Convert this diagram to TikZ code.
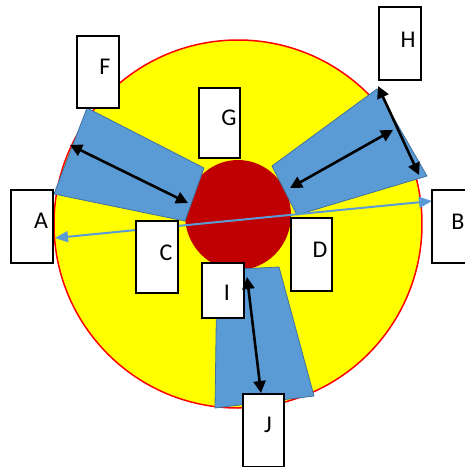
\documentclass[tikz,border=0pt]{standalone}
\usepackage{fontspec}
\setmainfont{Carlito}
\usetikzlibrary{arrows.meta}
\definecolor{ybg}{HTML}{FFFF00}
\definecolor{rline}{HTML}{FF0000}
\definecolor{dred}{HTML}{C00000}
\definecolor{bfill}{HTML}{5B9BD5}
\definecolor{bline}{HTML}{41719C}
\tikzset{
  box/.style={draw=black, line width=2pt, fill=white, minimum width=#1, inner sep=0pt},
  lbl/.style={font=\fontsize{24}{24}\selectfont, text=black, inner sep=0pt},
  quad/.style={fill=bfill, draw=bline, line width=0.8pt, line join=round},
  darr/.style={line width=2.6pt, {Triangle[length=12pt,width=12pt]}-{Triangle[length=12pt,width=12pt]}},
  barr/.style={draw=bfill, line width=2pt, {Triangle[length=13pt,width=11pt]}-{Triangle[length=13pt,width=11pt]}}
}
\begin{document}
\begin{tikzpicture}[x=1pt,y=-1pt]
\useasboundingbox (0,0) rectangle (465,467);
\clip (0,0) rectangle (465,467);
% big circle
\draw[fill=ybg, draw=rline, line width=1.5pt] (238,224) circle [radius=184];
% central red ellipse
\fill[dred] (238,215) ellipse [x radius=53, y radius=55];
% blue quadrilaterals
\draw[quad] (87,108) -- (204,168) -- (185,221) -- (54,194) -- cycle;
\draw[quad] (272,166) -- (377,89) -- (427,176) -- (297,215) -- cycle;
\draw[quad] (217,270) -- (279,267) -- (314,396) -- (215,408) -- cycle;
% coordinates for the blue line
\coordinate (ab1) at (55,238);
\coordinate (ab2) at (432,201);
\draw[barr] (ab1) -- (ab2);
% boxes
\node[box=42pt, minimum height=72pt] (F) at (98,72) {};
\node[box=41pt, minimum height=70pt] (G) at (219.5,123) {};
\node[box=42pt, minimum height=73pt] (A) at (32,226.5) {};
\node[box=42pt, minimum height=72pt] (C) at (157,257) {};
\node[box=42pt, minimum height=55pt] (I) at (223,290.5) {};
\node[box=41pt, minimum height=73pt] (D) at (311.5,254.5) {};
\node[box=42pt, minimum height=73pt] (H) at (400,43.5) {};
\node[box=42pt, minimum height=73pt] (B) at (453,226.5) {};
\node[box=41pt, minimum height=73pt] (J) at (263.5,430.5) {};
% labels
\node[lbl] (lF) at (105,67) {F};
\node[lbl] (lG) at (229,118) {G};
\node[lbl] (lA) at (41,221) {A};
\node[lbl] (lC) at (166,253) {C};
\node[lbl] (lI) at (227,293) {I};
\node[lbl] (lD) at (320,250) {D};
\node[lbl] (lH) at (408,40) {H};
\node[lbl] (lB) at (458,222) {B};
\node[lbl] (lJ) at (268,425) {J};
% black double arrows
\coordinate (f1) at (70,145);
\coordinate (f2) at (188,203);
\draw[darr] (f1) -- (f2);
\coordinate (h1) at (290,188);
\coordinate (h2) at (393,130);
\draw[darr] (h1) -- (h2);
\coordinate (h3) at (378,86);
\coordinate (h4) at (419,175);
\draw[darr] (h3) -- (h4);
\coordinate (j1) at (247,277);
\coordinate (j2) at (261,393);
\draw[darr] (j1) -- (j2);
\end{tikzpicture}
\end{document}
